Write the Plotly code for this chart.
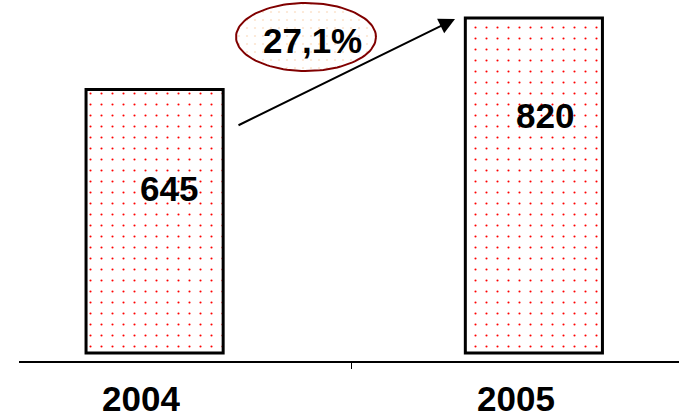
import numpy as np
import plotly.graph_objects as go

years = ["2004", "2005"]
values = [645, 820]
growth_label = "27,1%"

W, H = 679, 416
ML, MR, MT, MB = 19, 0, 0, 55
PW, PH = W - ML - MR, H - MT - MB

FONT = "Liberation Sans, Arial, sans-serif"
FS = 35

xs = list(range(len(years)))
fig = go.Figure()
fig.add_trace(go.Bar(
    x=xs, y=values, width=0.3615,
    marker=dict(
        color="white",
        line=dict(color="black", width=3),
        pattern=dict(shape=".", size=11, solidity=0.03,
                     fgcolor="#ff0000", bgcolor="white", fillmode="replace"),
    ),
    showlegend=False, hoverinfo="skip",
))

# ellipse (decorative) on a pixel overlay axis
t = np.linspace(0, 2 * np.pi, 120)
ex = 306 + 70 * np.cos(t)
ey = 37 + 34 * np.sin(t)
fig.add_trace(go.Scatter(
    x=ex, y=ey, xaxis="x2", yaxis="y2", mode="lines",
    line=dict(color="#800000", width=2),
    fill="toself", fillcolor="white",
    fillpattern=dict(shape=".", size=8, solidity=0.06,
                     fgcolor="#f7c9a0", bgcolor="white"),
    showlegend=False, hoverinfo="skip",
))

annotations = []
# value labels inside bars
label_pos = [(169, 188), (545, 115)]
for v, (px, py) in zip(values, label_pos):
    annotations.append(dict(x=px, y=py, xref="x2", yref="y2", text=f"<b>{v}</b>",
                            xanchor="center", yanchor="middle",
                            showarrow=False, font=dict(family=FONT, size=FS, color="black")))
# year labels (below plot area)
year_pos = [141, 516]
for yr, px in zip(years, year_pos):
    annotations.append(dict(x=(px - ML) / PW, y=1 - 398 / PH, xref="paper", yref="paper",
                            xanchor="center", yanchor="middle", height=32, valign="middle",
                            text=f"<b>{yr}</b>", showarrow=False,
                            font=dict(family=FONT, size=FS, color="black")))
# growth label
annotations.append(dict(x=312, y=40, xref="x2", yref="y2", text=f"<b>{growth_label}</b>",
                        xanchor="center", yanchor="middle",
                        showarrow=False, font=dict(family=FONT, size=FS, color="black")))
# arrow
annotations.append(dict(x=455, y=19, xref="x2", yref="y2", ax=237, ay=126,
                        axref="x2", ayref="y2", text="", showarrow=True,
                        arrowhead=2, arrowsize=1.6, arrowwidth=2, arrowcolor="black"))

fig.update_layout(
    width=W, height=H,
    margin=dict(l=ML, r=MR, t=MT, b=MB),
    paper_bgcolor="white", plot_bgcolor="white",
    xaxis=dict(range=[-0.3575, 1.3826], showline=True, linecolor="black", linewidth=1.5,
               tickmode="array", tickvals=[0.52], ticks="outside", ticklen=6,
               tickcolor="black", tickwidth=1, showticklabels=False,
               showgrid=False, zeroline=False, fixedrange=True),
    yaxis=dict(range=[-19.6, 864], visible=False, showgrid=False, zeroline=False),
    xaxis2=dict(range=[ML, W], overlaying="x", visible=False, showgrid=False, zeroline=False),
    yaxis2=dict(range=[PH, 0], overlaying="y", visible=False, showgrid=False, zeroline=False),
    annotations=annotations,
    showlegend=False,
)

fig.write_html("out.html", config={"displayModeBar": False})
